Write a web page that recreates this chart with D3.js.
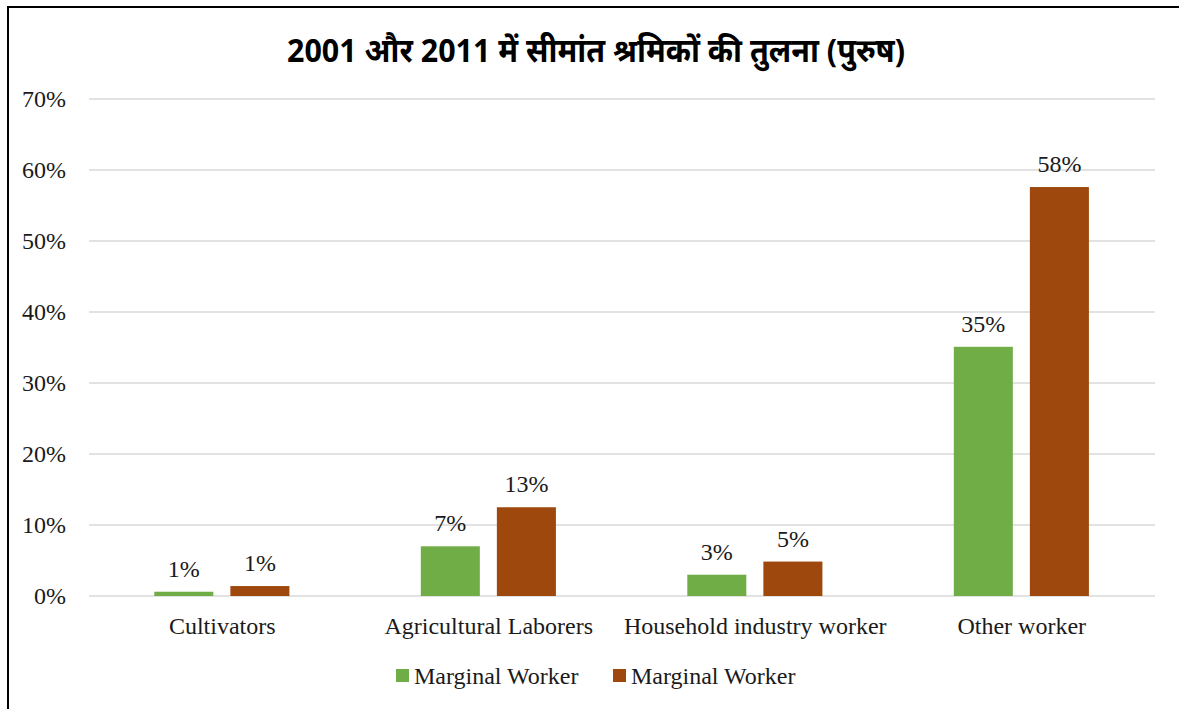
<!DOCTYPE html>
<html>
<head>
<meta charset="utf-8">
<script src="https://cdn.jsdelivr.net/npm/d3@7/dist/d3.min.js"></script>
<style>
  html, body { margin: 0; padding: 0; background: #fff; }
  svg { display: block; }
</style>
</head>
<body>
<svg id="chart" width="1179" height="709"></svg>
<script>
// Category labels along the x axis
const categories = ["Cultivators", "Agricultural Laborers", "Household industry worker", "Other worker"];
// Share of marginal male workers, 2001 and 2011 (percent)
const values2001 = [0.6, 7.0, 3.0, 35.1];
const values2011 = [1.4, 12.5, 4.85, 57.6];
// Legend labels for the two series
const seriesNames = ["Marginal Worker", "Marginal Worker"];
const seriesColors = ["#70ad47", "#9e480e"];
// Y axis ticks
const yTicks = [0, 10, 20, 30, 40, 50, 60, 70];
const title = "2001 और 2011 में सीमांत श्रमिकों की तुलना (पुरुष)";

const svg = d3.select("#chart");
const serif = "'Liberation Serif', 'Times New Roman', serif";
const fontSize = 24;

// Outer frame (top and left edges visible)
svg.append("path")
  .attr("d", "M8,1200 L8,7 L1179,7")
  .attr("fill", "none")
  .attr("stroke", "#000")
  .attr("stroke-width", 2);

const plot = { left: 89, right: 1155, top: 99, bottom: 596 };

const x = d3.scaleBand()
  .domain(categories)
  .range([plot.left, plot.right]);

const y = d3.scaleLinear()
  .domain([0, 70])
  .range([plot.bottom, plot.top]);

const inner = d3.scaleBand()
  .domain([0, 1])
  .range([x.bandwidth() * 0.245, x.bandwidth() * 0.752])
  .paddingInner(0.224);

// Gridlines
svg.append("g")
  .selectAll("line")
  .data(yTicks)
  .join("line")
  .attr("x1", plot.left)
  .attr("x2", plot.right)
  .attr("y1", d => y(d))
  .attr("y2", d => y(d))
  .attr("stroke", "#d9d9d9")
  .attr("stroke-width", 1.5);

// Y axis labels
const yAxis = d3.axisLeft(y)
  .tickValues(yTicks)
  .tickFormat(d => d + "%")
  .tickSize(0)
  .tickPadding(0);
const gy = svg.append("g")
  .attr("transform", `translate(66,0)`)
  .call(yAxis);
gy.select(".domain").remove();
gy.selectAll("text")
  .attr("font-family", serif)
  .attr("font-size", fontSize)
  .attr("fill", "#1a1a1a");

// X axis labels
const xAxis = d3.axisBottom(x).tickSize(0).tickPadding(0);
const gx = svg.append("g")
  .attr("transform", `translate(0,${plot.bottom + 21})`)
  .call(xAxis);
gx.select(".domain").remove();
gx.selectAll("text")
  .attr("font-family", serif)
  .attr("font-size", fontSize)
  .attr("fill", "#1a1a1a");

// Bars with value labels
const series = [values2001, values2011];
series.forEach((vals, si) => {
  const g = svg.append("g");
  const rows = categories.map((c, i) => ({ c, v: vals[i] }));
  g.selectAll("rect")
    .data(rows)
    .join("rect")
    .attr("x", d => x(d.c) + inner(si))
    .attr("width", inner.bandwidth())
    .attr("y", d => y(d.v))
    .attr("height", d => y(0) - y(d.v))
    .attr("fill", seriesColors[si]);
  g.selectAll("text")
    .data(rows)
    .join("text")
    .attr("x", d => x(d.c) + inner(si) + inner.bandwidth() / 2)
    .attr("y", d => y(d.v) - 15)
    .attr("text-anchor", "middle")
    .attr("font-family", serif)
    .attr("font-size", fontSize)
    .attr("fill", "#1a1a1a")
    .text(d => Math.round(d.v) + "%");
});

// Title
svg.append("text")
  .attr("x", 596)
  .attr("y", 62)
  .attr("text-anchor", "middle")
  .attr("font-family", "'Noto Sans', 'Liberation Sans', Arial, sans-serif")
  .attr("font-weight", "bold")
  .attr("font-size", 33)
  .attr("textLength", 618)
  .attr("lengthAdjust", "spacingAndGlyphs")
  .attr("fill", "#000")
  .text(title);

// Legend
const legendItems = [
  { name: seriesNames[0], color: seriesColors[0], x: 396 },
  { name: seriesNames[1], color: seriesColors[1], x: 613 }
];
const lg = svg.append("g");
legendItems.forEach(item => {
  lg.append("rect")
    .attr("x", item.x)
    .attr("y", 669)
    .attr("width", 13)
    .attr("height", 13)
    .attr("fill", item.color);
  lg.append("text")
    .attr("x", item.x + 18)
    .attr("y", 684)
    .attr("font-family", serif)
    .attr("font-size", fontSize)
    .attr("fill", "#1a1a1a")
    .text(item.name);
});
</script>
</body>
</html>
